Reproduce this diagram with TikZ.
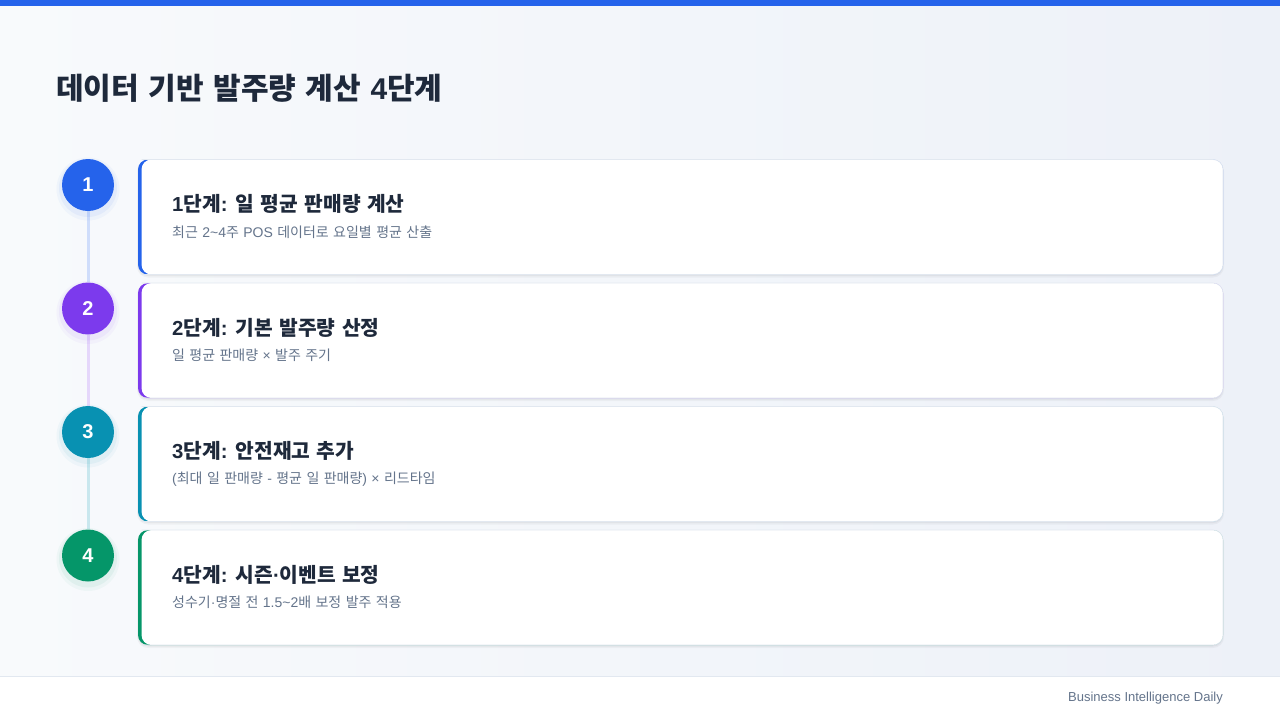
\documentclass[tikz,border=0pt]{standalone}
\usepackage{fontspec}
\setmainfont[WordSpace=1.4]{Noto Sans CJK KR}
\newfontfamily\latinsans{Liberation Sans}
\newcommand{\lat}[1]{{\latinsans #1}}
\pgfdeclarelayer{back}
\pgfdeclarelayer{bg}
\pgfsetlayers{back,bg,main}
\definecolor{cA}{HTML}{2563EB}
\definecolor{cB}{HTML}{7C3AED}
\definecolor{cC}{HTML}{0891B2}
\definecolor{cD}{HTML}{059669}
\definecolor{titlec}{HTML}{1E293B}
\definecolor{subc}{HTML}{64748B}
\definecolor{bordc}{HTML}{E2E8F0}
\definecolor{bgA}{HTML}{F8FAFC}
\definecolor{bgB}{HTML}{EDF1F8}
\begin{document}
\begin{tikzpicture}[x=1pt,y=-1pt,
  cardbox/.style={minimum width=1085pt, minimum height=115pt, rounded corners=10pt, inner sep=0pt, outer sep=0pt},
  stepcircle/.style={circle, minimum size=52pt, inner sep=0pt, text=white, font=\latinsans\fontsize{20}{22}\selectfont\bfseries},
  cardtitle/.style={anchor=west, inner sep=0pt, text=titlec, font=\fontsize{20.3}{23}\selectfont\bfseries},
  cardsub/.style={anchor=west, inner sep=0pt, text=subc, font=\fontsize{14}{16}\selectfont},
  linkline/.style={line width=3pt}
]
\useasboundingbox (0,0) rectangle (1280,720);
\begin{pgfonlayer}{back}
  \shade[left color=bgA, right color=bgB] (0,0) rectangle (1280,676);
  \fill[cA] (0,0) rectangle (1280,6);
  \fill[white] (0,676) rectangle (1280,720);
  \draw[bordc, line width=1pt] (0,676.5) -- (1280,676.5);
\end{pgfonlayer}

\node[anchor=west, inner sep=0pt, text=titlec, font=\fontsize{30}{32}\selectfont\bfseries] (title) at (56,88) {데이터 기반 발주량 계산 \lat{4}단계};

\foreach \i/\cy/\col/\ttl/\sub in {
  1/217/cA/{\lat{1}단계\lat{:} 일 평균 판매량 계산}/{최근 \lat{2\textasciitilde 4}주 \lat{POS} 데이터로 요일별 평균 산출},
  2/340.5/cB/{\lat{2}단계\lat{:} 기본 발주량 산정}/{일 평균 판매량 \lat{×} 발주 주기},
  3/464/cC/{\lat{3}단계\lat{:} 안전재고 추가}/{\lat{(}최대 일 판매량 \lat{-} 평균 일 판매량\lat{)} \lat{×} 리드타임},
  4/587.5/cD/{\lat{4}단계\lat{:} 시즌\lat{·}이벤트 보정}/{성수기\lat{·}명절 전 \lat{1.5\textasciitilde 2}배 보정 발주 적용}}{
  % card shadow
  \fill[black, opacity=0.035, rounded corners=11pt] (137,\cy-57.5+1) rectangle (1224,\cy+57.5+3);
  \fill[black, opacity=0.04, rounded corners=10pt] (138,\cy-57.5+0.5) rectangle (1223,\cy+57.5+1.5);
  \node[cardbox, fill=\col] (k\i) at (680.5,\cy) {};
  \fill[white, rounded corners=10pt] ([xshift=3.5pt]k\i.north west) rectangle (k\i.south east);
  \draw[bordc, line width=0.6pt, rounded corners=10pt] ([xshift=3.5pt]k\i.north west) -- (k\i.north east) -- (k\i.south east) -- ([xshift=3.5pt]k\i.south west);
  \node[cardtitle] (t\i) at (172,\cy-13) {\ttl};
  \node[cardsub] (s\i) at (172,\cy+15) {\sub};
  % circle glow
  \fill[\col, opacity=0.04] (88,\cy-32+4) circle (31.5);
  \fill[\col, opacity=0.06] (88,\cy-32+3) circle (29);
  \node[stepcircle, fill=\col] (c\i) at (88,\cy-32) {\i};
}

\begin{pgfonlayer}{bg}
  \draw[linkline, cA!22!white] (c1) -- (c2);
  \draw[linkline, cB!20!white] (c2) -- (c3);
  \draw[linkline, cC!22!white] (c3) -- (c4);
\end{pgfonlayer}

\node[anchor=east, inner sep=0pt, text=subc, font=\latinsans\fontsize{13}{15}\selectfont] (foot) at (1223,698.5) {Business Intelligence Daily};
\end{tikzpicture}
\end{document}
